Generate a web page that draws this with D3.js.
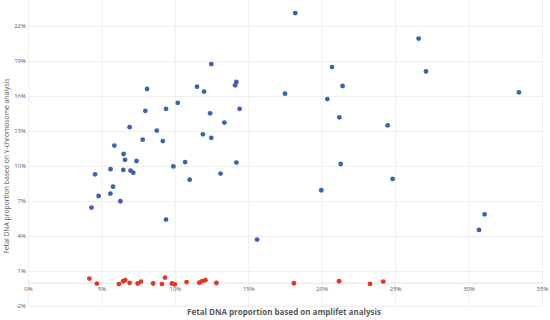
<!DOCTYPE html>
<html>
<head>
<meta charset="utf-8">
<script src="https://cdn.jsdelivr.net/npm/d3@7"></script>
<style>
  body { margin: 0; background: #fff; }
  text { font-family: "Open Sans", sans-serif; }
</style>
</head>
<body>
<div id="scatter"></div>
<script>
// amplifet estimate (x) vs Y-chromosome estimate (y), both in %
var blueX = [12.48, 11.51, 11.99, 14.19, 14.10, 8.11, 17.50, 10.20, 7.99, 9.40,
  12.40, 14.41, 6.92, 8.77, 13.37, 7.81, 9.18, 11.91, 12.48, 5.88,
  6.51, 6.61, 7.39, 4.57, 5.62, 6.49, 6.98, 7.17, 9.90, 10.70,
  11.01, 13.11, 14.19, 5.79, 4.81, 5.61, 6.29, 4.32, 9.40, 15.60,
  18.20, 26.60, 20.70, 27.10, 21.42, 20.38, 33.43, 21.20, 24.49, 21.29,
  24.83, 19.97, 31.09, 30.71];
var blueY = [18.74, 16.80, 16.38, 17.20, 16.92, 16.60, 16.20, 15.42, 14.73, 14.90,
  14.52, 14.90, 13.33, 13.04, 13.72, 12.26, 12.14, 12.72, 12.42, 11.75,
  11.03, 10.53, 10.43, 9.29, 9.73, 9.66, 9.61, 9.43, 9.96, 10.34,
  8.83, 9.35, 10.29, 8.23, 7.43, 7.63, 6.98, 6.44, 5.41, 3.69,
  23.11, 20.92, 18.48, 18.11, 16.86, 15.74, 16.32, 14.17, 13.49, 10.17,
  8.89, 7.92, 5.86, 4.52];

var redX = [4.18, 4.69, 6.19, 6.48, 6.62, 6.92, 7.47, 7.69, 8.52, 9.12,
  9.33, 9.80, 10.00, 10.80, 11.67, 11.86, 12.08, 12.83, 18.11, 21.18,
  23.29, 24.19];
var redY = [0.35, -0.08, -0.12, 0.12, 0.22, -0.01, -0.07, 0.09, -0.07, -0.12,
  0.44, -0.07, -0.15, 0.05, 0.00, 0.14, 0.21, -0.03, -0.05, 0.12,
  -0.11, 0.09];

var xTicks = [0, 5, 10, 15, 20, 25, 30, 35];
var yTicks = [-2, 1, 4, 7, 10, 13, 16, 19, 22];

var svgWidth = 550;
var svgHeight = 320;

var margin = { top: 0, right: 8, bottom: 14, left: 28 };
var width = svgWidth - margin.left - margin.right;
var height = svgHeight - margin.top - margin.bottom;

var svg = d3.select("#scatter")
  .append("svg")
  .attr("width", svgWidth)
  .attr("height", svgHeight);

var chartGroup = svg.append("g")
  .attr("transform", `translate(${margin.left}, ${margin.top})`);

var xLinearScale = d3.scaleLinear()
  .domain([0, 35])
  .range([0, width]);

var yLinearScale = d3.scaleLinear()
  .domain([-2, 24.23])
  .range([height, 0]);

// gridlines
var yGrid = d3.axisLeft(yLinearScale)
  .tickValues(yTicks)
  .tickSize(-width)
  .tickFormat(d => d + "%");

var yAxis = chartGroup.append("g")
  .call(yGrid);
yAxis.select(".domain").remove();
yAxis.selectAll("line").attr("stroke", "#ebebeb").attr("stroke-width", 0.8);
yAxis.selectAll("text")
  .attr("x", -2)
  .attr("fill", "#595959")
  .style("font-size", "6px");

var xGrid = d3.axisBottom(xLinearScale)
  .tickValues(xTicks)
  .tickSize(-height)
  .tickFormat("");

var xGridG = chartGroup.append("g")
  .attr("transform", `translate(0, ${height})`)
  .call(xGrid);
xGridG.select(".domain").remove();
xGridG.selectAll("line").attr("stroke", "#ebebeb").attr("stroke-width", 0.8);

// x axis crosses at 0%
var bottomAxis = d3.axisBottom(xLinearScale)
  .tickValues(xTicks)
  .tickSize(0)
  .tickFormat(d => d + "%");

var xAxis = chartGroup.append("g")
  .attr("transform", `translate(0, ${yLinearScale(0)})`)
  .call(bottomAxis);
xAxis.select(".domain").attr("stroke", "#dedede").attr("stroke-width", 0.8);
xAxis.selectAll("text")
  .attr("y", 4)
  .attr("fill", "#595959")
  .style("font-size", "6px");

// points
chartGroup.append("g")
  .selectAll("circle")
  .data(blueX)
  .enter()
  .append("circle")
  .attr("cx", d => xLinearScale(d))
  .attr("cy", (d, i) => yLinearScale(blueY[i]))
  .attr("r", 2.4)
  .attr("fill", "#3b62b0");

chartGroup.append("g")
  .selectAll("circle")
  .data(redX)
  .enter()
  .append("circle")
  .attr("cx", d => xLinearScale(d))
  .attr("cy", (d, i) => yLinearScale(redY[i]))
  .attr("r", 2.4)
  .attr("fill", "#e8361e");

// axis titles
svg.append("text")
  .attr("x", 284)
  .attr("y", 315)
  .attr("text-anchor", "middle")
  .attr("fill", "#595959")
  .style("font-size", "8px")
  .style("font-weight", "bold")
  .text("Fetal DNA proportion based on amplifet analysis");

svg.append("text")
  .attr("transform", "rotate(-90)")
  .attr("x", -166)
  .attr("y", 9)
  .attr("text-anchor", "middle")
  .attr("fill", "#595959")
  .style("font-size", "6.8px")
  .text("Fetal DNA proportion based on Y-chromosome analysis");
</script>
</body>
</html>
